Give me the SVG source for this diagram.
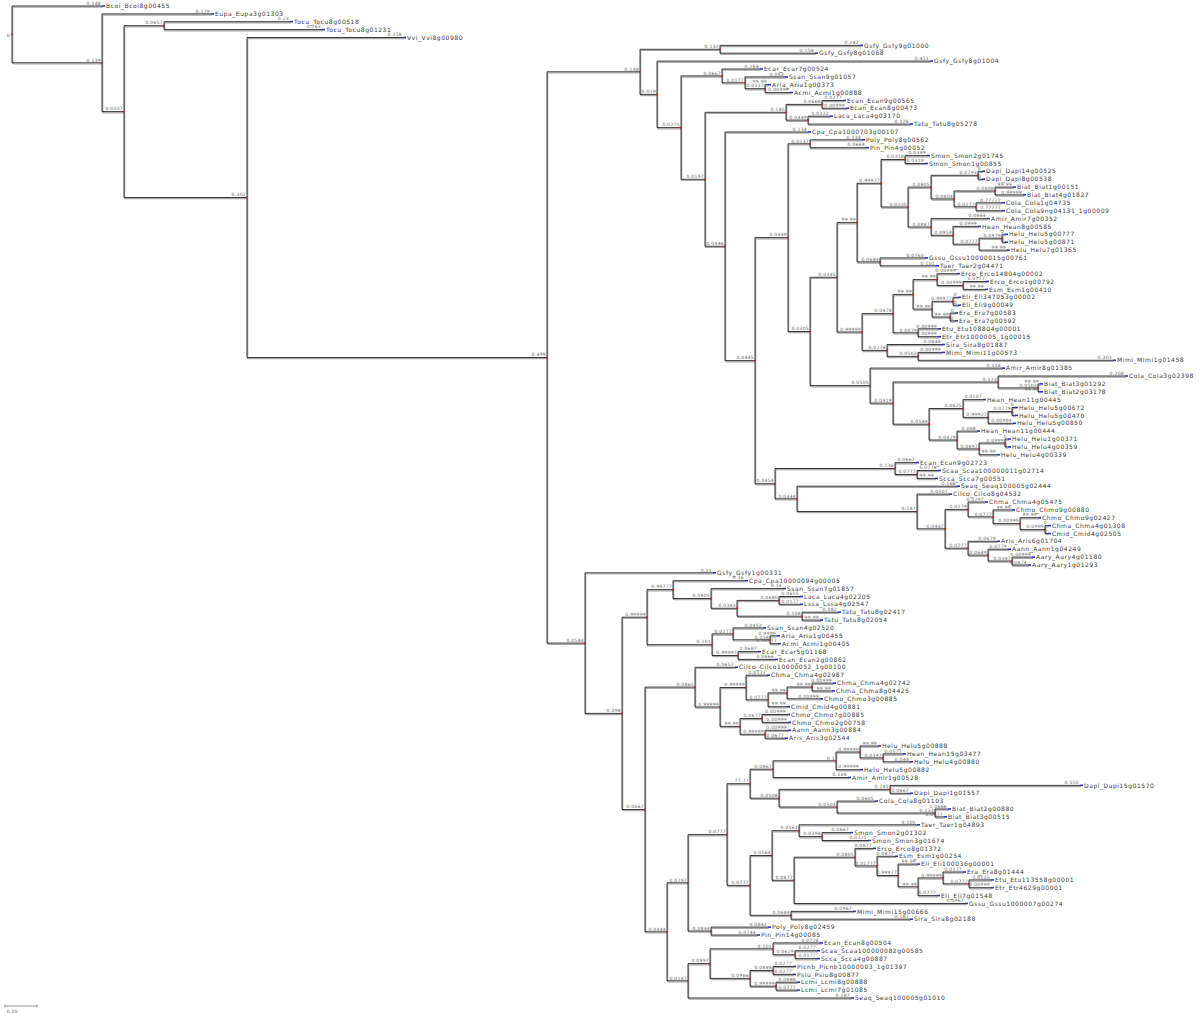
<svg xmlns="http://www.w3.org/2000/svg" xmlns:xlink="http://www.w3.org/1999/xlink" width="1200" height="1016" viewBox="0 0 1200 1016">
<style>
.n{font-family:"DejaVu Sans",sans-serif;font-size:6px;letter-spacing:0.55px;fill:#3a3a3a}
.v{font-family:"DejaVu Sans",sans-serif;font-size:4.5px;letter-spacing:0.3px;fill:#606060;text-anchor:end}
.b{fill:#2233cc}
.r{fill:#cc2222}
</style>
<defs>
<g id="E">
<path d="M12 6V62.8M12 6H102M12 62.8H102M102 13.9V111.6M102 13.9H211M102 111.6H124M124 25.7V197.5M124 25.7H164M164 21.7V29.6M164 21.7H290M164 29.6H322M124 197.5H247M247 37.5V357.5M247 37.5H403M247 357.5H547M547 71.8V643.1"/>
<path d="M547 71.8H640M640 49.3V94.4M640 49.3H720M720 45.4V53.2M720 45.4H860M720 53.2H815M640 94.4H657M657 61.1V127.6M657 61.1H930M657 127.6H681M681 75.9V179.3M681 75.9H722M722 69V82.8M722 69H760M722 82.8H745M745 76.9V88.7M745 76.9H785M745 88.7H765M765 84.7V92.6M765 84.7H768M765 92.6H790M681 179.3H705M705 112.3V246.3M705 112.3H786M786 104.4V120.1M786 104.4H822M822 100.5V108.3M822 100.5H843M822 108.3H846M786 120.1H808M808 116.2V124.1M808 116.2H830M808 124.1H910M705 246.3H725M725 132V360.6M725 132H808M725 360.6H755M755 237.6V483.7"/>
<path d="M755 237.6H788M788 143.8V331.5M788 143.8H810M810 139.8V147.7M810 139.8H862M810 147.7H866M788 331.5H810M810 277.3V385.6M810 277.3H837M837 222.6V332M837 222.6H857M857 183.3V261.9M857 183.3H881M881 159.5V207M881 159.5H905M905 155.6V163.5M905 155.6H927M905 163.5H925M881 207H908M908 187.1V227M908 187.1H931M931 175.3V198.9M931 175.3H978M978 171.3V179.2M978 171.3H982M978 179.2H982M931 198.9H954M954 191V206.8M954 191H995M995 187.1V194.9M995 187.1H1013M995 194.9H1023M954 206.8H976M976 202.8V210.7M976 202.8H1002M976 210.7H1002M908 227H931M931 218.6V235.3M931 218.6H987M931 235.3H953M953 226.4V244.2M953 226.4H978M953 244.2H979M979 238.2V250.1M979 238.2H1002M1002 234.3V242.2M1002 234.3H1005M1002 242.2H1005M979 250.1H1007M857 261.9H880M880 257.9V265.8M880 257.9H925M880 265.8H936"/>
<path d="M837 332H862M862 313.6V350.4M862 313.6H893M893 294.4V332.8M893 294.4H913M913 279.6V309.1M913 279.6H937M937 273.7V285.5M937 273.7H957M937 285.5H963M963 281.5V289.4M963 281.5H986M963 289.4H985M913 309.1H932M932 301.3V317M932 301.3H953M953 297.3V305.2M953 297.3H958M953 305.2H958M932 317H950M950 313V320.9M950 313H955M950 320.9H955M893 332.8H918M918 328.8V336.7M918 328.8H938M918 336.7H938M862 350.4H887M887 344.5V356.4M887 344.5H942M887 356.4H918M918 352.4V360.3M918 352.4H942M918 360.3H1113"/>
<path d="M810 385.6H870M870 368.1V403.1M870 368.1H1002M870 403.1H893M893 382V424.2M893 382H998M998 376V387.9M998 376H1125M998 387.9H1038M1038 383.9V391.8M1038 383.9H1040M1038 391.8H1040M893 424.2H929M929 408.5V440M929 408.5H963M963 399.6V417.4M963 399.6H983M963 417.4H988M988 411.5V423.3M988 411.5H1012M1012 407.5V415.4M1012 407.5H1015M1012 415.4H1015M988 423.3H1013M929 440H957M957 431.1V448.9M957 431.1H977M957 448.9H979M979 443V454.7M979 443H1005M1005 439V446.9M1005 439H1008M1005 446.9H1008M979 454.7H997"/>
<path d="M755 483.7H775M775 468.5V498.8M775 468.5H895M895 462.6V474.5M895 462.6H916M895 474.5H917M917 470.5V478.4M917 470.5H938M917 478.4H935M775 498.8H797M797 486.2V511.5M797 486.2H957M797 511.5H917M917 494.1V528.8M917 494.1H949M917 528.8H945M945 509.4V548.2M945 509.4H968M968 502V516.8M968 502H985M968 516.8H993M993 509.9V523.6M993 509.9H1012M993 523.6H1020M1020 517.7V529.6M1020 517.7H1038M1020 529.6H1045M1045 525.6V533.5M1045 525.6H1048M1045 533.5H1048M945 548.2H968M968 541.3V555.1M968 541.3H997M968 555.1H988M988 549.2V561M988 549.2H1008M988 561H1012M1012 557.1V565M1012 557.1H1032M1012 565H1028"/>
<path d="M547 643.1H585M585 572.8V713.4M585 572.8H713M585 713.4H622M622 617.2V809.5M622 617.2H647M647 589.6V644.7M647 589.6H673M673 580.7V598.5M673 580.7H745M673 598.5H711M711 588.6V608.3M711 588.6H783M711 608.3H737M737 600.4V616.2M737 600.4H779M779 596.5V604.3M779 596.5H800M779 604.3H800M737 616.2H802M802 612.2V620.1M802 612.2H838M802 620.1H820M647 644.7H712M712 633.9V655.5M712 633.9H733M733 627.9V639.8M733 627.9H763M733 639.8H770M770 635.8V643.7M770 635.8H777M770 643.7H778M712 655.5H738M738 651.6V659.4M738 651.6H758M738 659.4H775"/>
<path d="M622 809.5H645M645 687.1V931.8M645 687.1H695M695 667.3V707M695 667.3H735M695 707H720M720 687.5V726.4M720 687.5H746M746 675.2V699.8M746 675.2H767M746 699.8H768M768 692.9V706.7M768 692.9H787M787 687V698.8M787 687H812M812 683.1V690.9M812 683.1H833M812 690.9H832M787 698.8H820M768 706.7H787M720 726.4H740M740 718.5V734.3M740 718.5H762M762 714.5V722.4M762 714.5H787M762 722.4H788M740 734.3H765M765 730.3V738.2M765 730.3H788M765 738.2H785"/>
<path d="M645 931.8H667M667 882.8V980.8M667 882.8H688M688 834.6V931M688 834.6H727M727 783.7V885.4M727 783.7H750M750 769.2V798.2M750 769.2H773M773 760.8V777.5M773 760.8H836M836 752V769.7M836 752H860M860 746V757.9M860 746H878M860 757.9H883M883 753.9V761.8M883 753.9H903M883 761.8H910M836 769.7H860M773 777.5H848M750 798.2H779M779 789.4V807M779 789.4H890M890 785.4V793.3M890 785.4H1080M890 793.3H910M779 807H837M837 801.1V813M837 801.1H875M837 813H935M935 809V816.9M935 809H948M935 816.9H944"/>
<path d="M727 885.4H750M750 855.5V915.3M750 855.5H772M772 830.7V880.3M772 830.7H799M799 824.8V836.6M799 824.8H917M799 836.6H822M822 832.6V840.5M822 832.6H850M822 840.5H868M772 880.3H794M794 857.2V903.5M794 857.2H855M855 848.4V865.9M855 848.4H873M855 865.9H877M877 856.3V875.5M877 856.3H895M877 875.5H898M898 864.1V886.8M898 864.1H917M898 886.8H918M918 877.9V895.6M918 877.9H943M943 872V883.8M943 872H963M943 883.8H969M969 879.9V887.7M969 879.9H991M969 887.7H991M918 895.6H937M794 903.5H965M750 915.3H791M791 911.4V919.2M791 911.4H853M791 919.2H910M688 931H711M711 927.1V935M711 927.1H768M711 935H757"/>
<path d="M667 980.8H688M688 963.6V998M688 963.6H710M710 948.8V978.4M710 948.8H773M773 942.9V954.7M773 942.9H820M773 954.7H795M795 950.7V958.6M795 950.7H817M795 958.6H817M710 978.4H750M750 970.5V986.2M750 970.5H773M773 966.5V974.4M773 966.5H793M773 974.4H793M750 986.2H776M776 982.2V990.1M776 982.2H797M776 990.1H797M688 998H851"/>
</g>
</defs>
<rect width="1200" height="1016" fill="#fff"/>
<g id="connectors" fill="none">
<use href="#E" xlink:href="#E" stroke="#a8a8a8" stroke-width="1.2" transform="translate(0.7,1.2)"/>
<use href="#E" xlink:href="#E" stroke="#151515" stroke-width="0.85"/>
</g>
<g id="scale"><path d="M5 1006H37M5 1004.5V1007.5M37 1004.5V1007.5" stroke="#777" stroke-width="0.8" fill="none"/><text class="v" x="18" y="1012.5">0.05</text></g>
<g id="root"><rect class="r" x="11.2" y="33.6" width="1.6" height="1.6"/><text class="v" x="10" y="36.5">0</text></g>
<g id="nodes">
<g id="n102"><rect class="r" x="101.2" y="62" width="1.6" height="1.6"/><text class="v" x="101" y="61.5">0.139</text></g>
<g id="n125"><rect class="r" x="123.2" y="110.8" width="1.6" height="1.6"/><text class="v" x="123" y="110.3">0.0337</text></g>
<g id="n165"><rect class="r" x="163.2" y="24.9" width="1.6" height="1.6"/><text class="v" x="163" y="24.4">0.0657</text></g>
<g id="n247"><rect class="r" x="246.2" y="196.7" width="1.6" height="1.6"/><text class="v" x="246" y="196.2">0.302</text></g>
<g id="n547"><rect class="r" x="546.2" y="356.7" width="1.6" height="1.6"/><text class="v" x="546" y="356.2">0.499</text></g>
<g id="n640"><rect class="r" x="639.2" y="71" width="1.6" height="1.6"/><text class="v" x="639" y="70.5">0.148</text></g>
<g id="n720a"><rect class="r" x="719.2" y="48.5" width="1.6" height="1.6"/><text class="v" x="719" y="48">0.132</text></g>
<g id="n657"><rect class="r" x="656.2" y="93.6" width="1.6" height="1.6"/><text class="v" x="656" y="93.1">0.019</text></g>
<g id="n681"><rect class="r" x="680.2" y="126.8" width="1.6" height="1.6"/><text class="v" x="680" y="126.3">0.0271</text></g>
<g id="n722"><rect class="r" x="721.2" y="75.1" width="1.6" height="1.6"/><text class="v" x="721" y="74.6">0.0667</text></g>
<g id="n745"><rect class="r" x="744.2" y="82" width="1.6" height="1.6"/><text class="v" x="744" y="81.5">0.0177</text></g>
<g id="n765"><rect class="r" x="764.2" y="87.9" width="1.6" height="1.6"/><text class="v" x="764" y="87.4">0.0337</text></g>
<g id="n705"><rect class="r" x="704.2" y="178.5" width="1.6" height="1.6"/><text class="v" x="704" y="178">0.0197</text></g>
<g id="n786"><rect class="r" x="785.2" y="111.5" width="1.6" height="1.6"/><text class="v" x="785" y="111">0.185</text></g>
<g id="n822"><rect class="r" x="821.2" y="103.6" width="1.6" height="1.6"/><text class="v" x="821" y="103.1">0.0668</text></g>
<g id="n808"><rect class="r" x="807.2" y="119.3" width="1.6" height="1.6"/><text class="v" x="807" y="118.8">0.0449</text></g>
<g id="n725"><rect class="r" x="724.2" y="245.5" width="1.6" height="1.6"/><text class="v" x="724" y="245">0.0446</text></g>
<g id="n755"><rect class="r" x="754.2" y="359.8" width="1.6" height="1.6"/><text class="v" x="754" y="359.3">0.0445</text></g>
<g id="n788"><rect class="r" x="787.2" y="236.8" width="1.6" height="1.6"/><text class="v" x="787" y="236.3">0.0449</text></g>
<g id="n810p"><rect class="r" x="809.2" y="143" width="1.6" height="1.6"/><text class="v" x="809" y="142.5">0.0137</text></g>
<g id="n810b"><rect class="r" x="809.2" y="330.7" width="1.6" height="1.6"/><text class="v" x="809" y="330.2">0.0305</text></g>
<g id="n837"><rect class="r" x="836.2" y="276.5" width="1.6" height="1.6"/><text class="v" x="836" y="276">0.0345</text></g>
<g id="n857"><rect class="r" x="856.2" y="221.8" width="1.6" height="1.6"/><text class="v" x="856" y="221.3">99.99</text></g>
<g id="n881"><rect class="r" x="880.2" y="182.5" width="1.6" height="1.6"/><text class="v" x="880" y="182">0.99977</text></g>
<g id="n905"><rect class="r" x="904.2" y="158.7" width="1.6" height="1.6"/><text class="v" x="904" y="158.2">0.0318</text></g>
<g id="n908"><rect class="r" x="907.2" y="206.2" width="1.6" height="1.6"/><text class="v" x="907" y="205.7">0.0335</text></g>
<g id="n931a"><rect class="r" x="930.2" y="186.3" width="1.6" height="1.6"/><text class="v" x="930" y="185.8">0.0805</text></g>
<g id="n978"><rect class="r" x="977.2" y="174.5" width="1.6" height="1.6"/><text class="v" x="977" y="174">0.0793</text></g>
<g id="n954"><rect class="r" x="953.2" y="198.1" width="1.6" height="1.6"/><text class="v" x="953" y="197.6">0.0804</text></g>
<g id="n995"><rect class="r" x="994.2" y="190.2" width="1.6" height="1.6"/><text class="v" x="994" y="189.7">0.0808</text></g>
<g id="n976"><rect class="r" x="975.2" y="206" width="1.6" height="1.6"/><text class="v" x="975" y="205.5">0.0277</text></g>
<g id="n931b"><rect class="r" x="930.2" y="226.2" width="1.6" height="1.6"/><text class="v" x="930" y="225.7">0.0887</text></g>
<g id="n953"><rect class="r" x="952.2" y="234.5" width="1.6" height="1.6"/><text class="v" x="952" y="234">0.0959</text></g>
<g id="n979"><rect class="r" x="978.2" y="243.4" width="1.6" height="1.6"/><text class="v" x="978" y="242.9">0.0777</text></g>
<g id="n1002"><rect class="r" x="1001.2" y="237.4" width="1.6" height="1.6"/><text class="v" x="1001" y="236.9">0.0979</text></g>
<g id="n880b"><rect class="r" x="879.2" y="261.1" width="1.6" height="1.6"/><text class="v" x="879" y="260.6">0.0684</text></g>
<g id="n862"><rect class="r" x="861.2" y="331.2" width="1.6" height="1.6"/><text class="v" x="861" y="330.7">0.99999</text></g>
<g id="n893"><rect class="r" x="892.2" y="312.8" width="1.6" height="1.6"/><text class="v" x="892" y="312.3">0.0478</text></g>
<g id="n913"><rect class="r" x="912.2" y="293.6" width="1.6" height="1.6"/><text class="v" x="912" y="293.1">99.99</text></g>
<g id="n937"><rect class="r" x="936.2" y="278.8" width="1.6" height="1.6"/><text class="v" x="936" y="278.3">99.99</text></g>
<g id="n963"><rect class="r" x="962.2" y="284.7" width="1.6" height="1.6"/><text class="v" x="962" y="284.2">0.00999</text></g>
<g id="n932"><rect class="r" x="931.2" y="308.3" width="1.6" height="1.6"/><text class="v" x="931" y="307.8">99.99</text></g>
<g id="n953b"><rect class="r" x="952.2" y="300.5" width="1.6" height="1.6"/><text class="v" x="952" y="300">0.99977</text></g>
<g id="n950"><rect class="r" x="949.2" y="316.2" width="1.6" height="1.6"/><text class="v" x="949" y="315.7">99.99</text></g>
<g id="n918"><rect class="r" x="917.2" y="332" width="1.6" height="1.6"/><text class="v" x="917" y="331.5">0.0079</text></g>
<g id="n887"><rect class="r" x="886.2" y="349.6" width="1.6" height="1.6"/><text class="v" x="886" y="349.1">0.0278</text></g>
<g id="n918b"><rect class="r" x="917.2" y="355.6" width="1.6" height="1.6"/><text class="v" x="917" y="355.1">0.0503</text></g>
<g id="n870"><rect class="r" x="869.2" y="384.8" width="1.6" height="1.6"/><text class="v" x="869" y="384.3">0.0505</text></g>
<g id="n893b"><rect class="r" x="892.2" y="402.3" width="1.6" height="1.6"/><text class="v" x="892" y="401.8">0.0419</text></g>
<g id="n998"><rect class="r" x="997.2" y="381.2" width="1.6" height="1.6"/><text class="v" x="997" y="380.7">0.173</text></g>
<g id="n1038"><rect class="r" x="1037.2" y="387.1" width="1.6" height="1.6"/><text class="v" x="1037" y="386.6">0.0503</text></g>
<g id="n929"><rect class="r" x="928.2" y="423.4" width="1.6" height="1.6"/><text class="v" x="928" y="422.9">0.0584</text></g>
<g id="n963b"><rect class="r" x="962.2" y="407.7" width="1.6" height="1.6"/><text class="v" x="962" y="407.2">0.0625</text></g>
<g id="n988"><rect class="r" x="987.2" y="416.6" width="1.6" height="1.6"/><text class="v" x="987" y="416.1">0.99927</text></g>
<g id="n1012a"><rect class="r" x="1011.2" y="410.7" width="1.6" height="1.6"/><text class="v" x="1011" y="410.2">0.0779</text></g>
<g id="n957"><rect class="r" x="956.2" y="439.2" width="1.6" height="1.6"/><text class="v" x="956" y="438.7">0.0429</text></g>
<g id="n979b"><rect class="r" x="978.2" y="448.1" width="1.6" height="1.6"/><text class="v" x="978" y="447.6">0.0897</text></g>
<g id="n1005"><rect class="r" x="1004.2" y="442.2" width="1.6" height="1.6"/><text class="v" x="1004" y="441.7">0.0999</text></g>
<g id="n775"><rect class="r" x="774.2" y="482.9" width="1.6" height="1.6"/><text class="v" x="774" y="482.4">0.0454</text></g>
<g id="n895"><rect class="r" x="894.2" y="467.7" width="1.6" height="1.6"/><text class="v" x="894" y="467.2">0.136</text></g>
<g id="n917"><rect class="r" x="916.2" y="473.7" width="1.6" height="1.6"/><text class="v" x="916" y="473.2">0.0777</text></g>
<g id="n797"><rect class="r" x="796.2" y="498" width="1.6" height="1.6"/><text class="v" x="796" y="497.5">0.0444</text></g>
<g id="n917b"><rect class="r" x="916.2" y="510.7" width="1.6" height="1.6"/><text class="v" x="916" y="510.2">0.187</text></g>
<g id="n945"><rect class="r" x="944.2" y="528" width="1.6" height="1.6"/><text class="v" x="944" y="527.5">0.0447</text></g>
<g id="n968a"><rect class="r" x="967.2" y="508.6" width="1.6" height="1.6"/><text class="v" x="967" y="508.1">0.0279</text></g>
<g id="n993"><rect class="r" x="992.2" y="516" width="1.6" height="1.6"/><text class="v" x="992" y="515.5">0.0777</text></g>
<g id="n1020"><rect class="r" x="1019.2" y="522.8" width="1.6" height="1.6"/><text class="v" x="1019" y="522.3">0.00999</text></g>
<g id="n1045"><rect class="r" x="1044.2" y="528.8" width="1.6" height="1.6"/><text class="v" x="1044" y="528.3">0.0999</text></g>
<g id="n968b"><rect class="r" x="967.2" y="547.4" width="1.6" height="1.6"/><text class="v" x="967" y="546.9">0.0777</text></g>
<g id="n988b"><rect class="r" x="987.2" y="554.3" width="1.6" height="1.6"/><text class="v" x="987" y="553.8">0.0689</text></g>
<g id="n1012b"><rect class="r" x="1011.2" y="560.2" width="1.6" height="1.6"/><text class="v" x="1011" y="559.7">0.0347</text></g>
<g id="n585"><rect class="r" x="584.2" y="642.3" width="1.6" height="1.6"/><text class="v" x="584" y="641.8">0.0584</text></g>
<g id="n622"><rect class="r" x="621.2" y="712.6" width="1.6" height="1.6"/><text class="v" x="621" y="712.1">0.098</text></g>
<g id="n647"><rect class="r" x="646.2" y="616.4" width="1.6" height="1.6"/><text class="v" x="646" y="615.9">0.99999</text></g>
<g id="n673"><rect class="r" x="672.2" y="588.8" width="1.6" height="1.6"/><text class="v" x="672" y="588.3">0.99777</text></g>
<g id="n711"><rect class="r" x="710.2" y="597.7" width="1.6" height="1.6"/><text class="v" x="710" y="597.2">0.0805</text></g>
<g id="n737"><rect class="r" x="736.2" y="607.5" width="1.6" height="1.6"/><text class="v" x="736" y="607">0.0383</text></g>
<g id="n779"><rect class="r" x="778.2" y="599.6" width="1.6" height="1.6"/><text class="v" x="778" y="599.1">0.0680</text></g>
<g id="n802"><rect class="r" x="801.2" y="615.4" width="1.6" height="1.6"/><text class="v" x="801" y="614.9">0.108</text></g>
<g id="n712"><rect class="r" x="711.2" y="643.9" width="1.6" height="1.6"/><text class="v" x="711" y="643.4">0.101</text></g>
<g id="n733"><rect class="r" x="732.2" y="633.1" width="1.6" height="1.6"/><text class="v" x="732" y="632.6">0.0177</text></g>
<g id="n770"><rect class="r" x="769.2" y="639" width="1.6" height="1.6"/><text class="v" x="769" y="638.5">0.058</text></g>
<g id="n738"><rect class="r" x="737.2" y="654.7" width="1.6" height="1.6"/><text class="v" x="737" y="654.2">0.99997</text></g>
<g id="n645"><rect class="r" x="644.2" y="808.7" width="1.6" height="1.6"/><text class="v" x="644" y="808.2">0.0667</text></g>
<g id="n695"><rect class="r" x="694.2" y="686.3" width="1.6" height="1.6"/><text class="v" x="694" y="685.8">0.0865</text></g>
<g id="n720b"><rect class="r" x="719.2" y="706.2" width="1.6" height="1.6"/><text class="v" x="719" y="705.7">0.99999</text></g>
<g id="n746"><rect class="r" x="745.2" y="686.7" width="1.6" height="1.6"/><text class="v" x="745" y="686.2">0.99999</text></g>
<g id="n768"><rect class="r" x="767.2" y="699" width="1.6" height="1.6"/><text class="v" x="767" y="698.5">0.0777</text></g>
<g id="n787"><rect class="r" x="786.2" y="692.1" width="1.6" height="1.6"/><text class="v" x="786" y="691.6">99.99</text></g>
<g id="n812"><rect class="r" x="811.2" y="686.2" width="1.6" height="1.6"/><text class="v" x="811" y="685.7">99.99</text></g>
<g id="n740"><rect class="r" x="739.2" y="725.6" width="1.6" height="1.6"/><text class="v" x="739" y="725.1">99.99</text></g>
<g id="n762"><rect class="r" x="761.2" y="717.7" width="1.6" height="1.6"/><text class="v" x="761" y="717.2">0.0677</text></g>
<g id="n765b"><rect class="r" x="764.2" y="733.5" width="1.6" height="1.6"/><text class="v" x="764" y="733">0.99999</text></g>
<g id="n667"><rect class="r" x="666.2" y="931" width="1.6" height="1.6"/><text class="v" x="666" y="930.5">0.0444</text></g>
<g id="n688a"><rect class="r" x="687.2" y="882" width="1.6" height="1.6"/><text class="v" x="687" y="881.5">0.0797</text></g>
<g id="n727"><rect class="r" x="726.2" y="833.8" width="1.6" height="1.6"/><text class="v" x="726" y="833.3">0.0777</text></g>
<g id="n750"><rect class="r" x="749.2" y="782.9" width="1.6" height="1.6"/><text class="v" x="749" y="782.4">77.77</text></g>
<g id="n773"><rect class="r" x="772.2" y="768.4" width="1.6" height="1.6"/><text class="v" x="772" y="767.9">0.0867</text></g>
<g id="n836"><rect class="r" x="835.2" y="760" width="1.6" height="1.6"/><text class="v" x="835" y="759.5">0.1</text></g>
<g id="n860"><rect class="r" x="859.2" y="751.2" width="1.6" height="1.6"/><text class="v" x="859" y="750.7">0.99999</text></g>
<g id="n883"><rect class="r" x="882.2" y="757.1" width="1.6" height="1.6"/><text class="v" x="882" y="756.6">0.0397</text></g>
<g id="n779b"><rect class="r" x="778.2" y="797.4" width="1.6" height="1.6"/><text class="v" x="778" y="796.9">0.0508</text></g>
<g id="n890"><rect class="r" x="889.2" y="788.6" width="1.6" height="1.6"/><text class="v" x="889" y="788.1">0.181</text></g>
<g id="n837b"><rect class="r" x="836.2" y="806.2" width="1.6" height="1.6"/><text class="v" x="836" y="805.7">0.0503</text></g>
<g id="n935"><rect class="r" x="934.2" y="812.2" width="1.6" height="1.6"/><text class="v" x="934" y="811.7">0.133</text></g>
<g id="n750b"><rect class="r" x="749.2" y="884.6" width="1.6" height="1.6"/><text class="v" x="749" y="884.1">0.0777</text></g>
<g id="n772"><rect class="r" x="771.2" y="854.7" width="1.6" height="1.6"/><text class="v" x="771" y="854.2">0.0564</text></g>
<g id="n799"><rect class="r" x="798.2" y="829.9" width="1.6" height="1.6"/><text class="v" x="798" y="829.4">0.0561</text></g>
<g id="n822b"><rect class="r" x="821.2" y="835.8" width="1.6" height="1.6"/><text class="v" x="821" y="835.3">0.0394</text></g>
<g id="n794"><rect class="r" x="793.2" y="879.5" width="1.6" height="1.6"/><text class="v" x="793" y="879">0.0877</text></g>
<g id="n855"><rect class="r" x="854.2" y="856.4" width="1.6" height="1.6"/><text class="v" x="854" y="855.9">0.0805</text></g>
<g id="n877"><rect class="r" x="876.2" y="865.1" width="1.6" height="1.6"/><text class="v" x="876" y="864.6">0.01777</text></g>
<g id="n898"><rect class="r" x="897.2" y="874.7" width="1.6" height="1.6"/><text class="v" x="897" y="874.2">0.99977</text></g>
<g id="n918c"><rect class="r" x="917.2" y="886" width="1.6" height="1.6"/><text class="v" x="917" y="885.5">99.99</text></g>
<g id="n943"><rect class="r" x="942.2" y="877.1" width="1.6" height="1.6"/><text class="v" x="942" y="876.6">0.99999</text></g>
<g id="n969"><rect class="r" x="968.2" y="883" width="1.6" height="1.6"/><text class="v" x="968" y="882.5">0.0777</text></g>
<g id="n791"><rect class="r" x="790.2" y="914.5" width="1.6" height="1.6"/><text class="v" x="790" y="914">0.0684</text></g>
<g id="n711b"><rect class="r" x="710.2" y="930.2" width="1.6" height="1.6"/><text class="v" x="710" y="929.7">0.0844</text></g>
<g id="n688"><rect class="r" x="687.2" y="980" width="1.6" height="1.6"/><text class="v" x="687" y="979.5">0.0147</text></g>
<g id="n710"><rect class="r" x="709.2" y="962.8" width="1.6" height="1.6"/><text class="v" x="709" y="962.3">0.0997</text></g>
<g id="n773b"><rect class="r" x="772.2" y="948" width="1.6" height="1.6"/><text class="v" x="772" y="947.5">0.101</text></g>
<g id="n795"><rect class="r" x="794.2" y="953.9" width="1.6" height="1.6"/><text class="v" x="794" y="953.4">0.0629</text></g>
<g id="n750c"><rect class="r" x="749.2" y="977.6" width="1.6" height="1.6"/><text class="v" x="749" y="977.1">0.0966</text></g>
<g id="n773c"><rect class="r" x="772.2" y="969.7" width="1.6" height="1.6"/><text class="v" x="772" y="969.2">0.0888</text></g>
<g id="n776"><rect class="r" x="775.2" y="985.4" width="1.6" height="1.6"/><text class="v" x="775" y="984.9">0.99999</text></g>
</g>
<g id="leaves">
<g id="L1"><rect class="b" x="102" y="5.2" width="3" height="1.6"/><text class="v" x="101" y="4.7">0.148</text><text class="n" x="106" y="8.1">Bcoi_Bcoi8g00455</text></g>
<g id="L2"><rect class="b" x="211" y="13.1" width="3" height="1.6"/><text class="v" x="210" y="12.6">0.179</text><text class="n" x="215" y="16">Eupa_Eupa3g01303</text></g>
<g id="L3"><rect class="b" x="290" y="20.9" width="3" height="1.6"/><text class="v" x="289" y="20.4">0.23</text><text class="n" x="294" y="23.8">Tocu_Tocu8g00518</text></g>
<g id="L4"><rect class="b" x="322" y="28.8" width="3" height="1.6"/><text class="v" x="321" y="28.3">0.263</text><text class="n" x="326" y="31.7">Tocu_Tocu8g01231</text></g>
<g id="L5"><rect class="b" x="403" y="36.7" width="3" height="1.6"/><text class="v" x="402" y="36.2">0.258</text><text class="n" x="407" y="39.6">Vvi_Vvi8g00980</text></g>
<g id="L6"><rect class="b" x="860" y="44.6" width="3" height="1.6"/><text class="v" x="859" y="44.1">0.282</text><text class="n" x="864" y="47.5">Gsfy_Gsfy9g01000</text></g>
<g id="L7"><rect class="b" x="815" y="52.4" width="3" height="1.6"/><text class="v" x="814" y="51.9">0.158</text><text class="n" x="819" y="55.3">Gsfy_Gsfy8g01068</text></g>
<g id="L8"><rect class="b" x="930" y="60.3" width="3" height="1.6"/><text class="v" x="929" y="59.8">0.451</text><text class="n" x="934" y="63.2">Gsfy_Gsfy8g01004</text></g>
<g id="L9"><rect class="b" x="760" y="68.2" width="3" height="1.6"/><text class="v" x="759" y="67.7">0.264</text><text class="n" x="764" y="71.1">Ecar_Ecar7g00524</text></g>
<g id="L10"><rect class="b" x="785" y="76.1" width="3" height="1.6"/><text class="v" x="784" y="75.6">0.083</text><text class="n" x="789" y="79">Ssan_Ssan9g01057</text></g>
<g id="L11"><rect class="b" x="768" y="83.9" width="3" height="1.6"/><text class="v" x="767" y="83.4">99.99</text><text class="n" x="772" y="86.8">Aria_Aria1g00373</text></g>
<g id="L12"><rect class="b" x="790" y="91.8" width="3" height="1.6"/><text class="v" x="789" y="91.3">0.00999</text><text class="n" x="794" y="94.7">Acmi_Acmi1g00888</text></g>
<g id="L13"><rect class="b" x="843" y="99.7" width="3" height="1.6"/><text class="v" x="842" y="99.2">0.0277</text><text class="n" x="847" y="102.6">Ecan_Ecan9g00565</text></g>
<g id="L14"><rect class="b" x="846" y="107.5" width="3" height="1.6"/><text class="v" x="845" y="107">0.00999</text><text class="n" x="850" y="110.4">Ecan_Ecan8g00473</text></g>
<g id="L15"><rect class="b" x="830" y="115.4" width="3" height="1.6"/><text class="v" x="829" y="114.9">0.0322</text><text class="n" x="834" y="118.3">Laca_Laca4g03170</text></g>
<g id="L16"><rect class="b" x="910" y="123.3" width="3" height="1.6"/><text class="v" x="909" y="122.8">0.126</text><text class="n" x="914" y="126.2">Tatu_Tatu8g05278</text></g>
<g id="L17"><rect class="b" x="808" y="131.2" width="3" height="1.6"/><text class="v" x="807" y="130.7">0.134</text><text class="n" x="812" y="134.1">Cpa_Cpa1000703g00107</text></g>
<g id="L18"><rect class="b" x="862" y="139" width="3" height="1.6"/><text class="v" x="861" y="138.5">0.134</text><text class="n" x="866" y="141.9">Poly_Poly8g00562</text></g>
<g id="L19"><rect class="b" x="866" y="146.9" width="3" height="1.6"/><text class="v" x="865" y="146.4">0.0669</text><text class="n" x="870" y="149.8">Pin_Pin4g00052</text></g>
<g id="L20"><rect class="b" x="927" y="154.8" width="3" height="1.6"/><text class="v" x="926" y="154.3">0.0389</text><text class="n" x="931" y="157.7">Smon_Smon2g01745</text></g>
<g id="L21"><rect class="b" x="925" y="162.7" width="3" height="1.6"/><text class="v" x="924" y="162.2">0.0319</text><text class="n" x="929" y="165.6">Smon_Smon1g00855</text></g>
<g id="L22"><rect class="b" x="982" y="170.5" width="3" height="1.6"/><text class="v" x="981" y="170">0</text><text class="n" x="986" y="173.4">Dapi_Dapi14g00525</text></g>
<g id="L23"><rect class="b" x="982" y="178.4" width="3" height="1.6"/><text class="v" x="981" y="177.9">0</text><text class="n" x="986" y="181.3">Dapi_Dapi8g00538</text></g>
<g id="L24"><rect class="b" x="1013" y="186.3" width="3" height="1.6"/><text class="v" x="1012" y="185.8">99.99</text><text class="n" x="1017" y="189.2">Biat_Biat1g00151</text></g>
<g id="L25"><rect class="b" x="1023" y="194.1" width="3" height="1.6"/><text class="v" x="1022" y="193.6">0.99999</text><text class="n" x="1027" y="197">Biat_Biat4g01827</text></g>
<g id="L26"><rect class="b" x="1002" y="202" width="3" height="1.6"/><text class="v" x="1001" y="201.5">0.77777</text><text class="n" x="1006" y="204.9">Cola_Cola1g04735</text></g>
<g id="L27"><rect class="b" x="1002" y="209.9" width="3" height="1.6"/><text class="v" x="1001" y="209.4">0.77777</text><text class="n" x="1006" y="212.8">Cola_Cola9ng04131_1g00009</text></g>
<g id="L28"><rect class="b" x="987" y="217.8" width="3" height="1.6"/><text class="v" x="986" y="217.3">0.0864</text><text class="n" x="991" y="220.7">Amir_Amir7g00352</text></g>
<g id="L29"><rect class="b" x="978" y="225.6" width="3" height="1.6"/><text class="v" x="977" y="225.1">0.0999</text><text class="n" x="982" y="228.5">Hean_Hean8g00585</text></g>
<g id="L30"><rect class="b" x="1005" y="233.5" width="3" height="1.6"/><text class="v" x="1004" y="233">0</text><text class="n" x="1009" y="236.4">Helu_Helu5g00777</text></g>
<g id="L31"><rect class="b" x="1005" y="241.4" width="3" height="1.6"/><text class="v" x="1004" y="240.9">0</text><text class="n" x="1009" y="244.3">Helu_Helu5g00871</text></g>
<g id="L32"><rect class="b" x="1007" y="249.3" width="3" height="1.6"/><text class="v" x="1006" y="248.8">99.99</text><text class="n" x="1011" y="252.2">Helu_Helu7g01365</text></g>
<g id="L33"><rect class="b" x="925" y="257.1" width="3" height="1.6"/><text class="v" x="924" y="256.6">0.0763</text><text class="n" x="929" y="260">Gssu_Gssu10000015g00761</text></g>
<g id="L34"><rect class="b" x="936" y="265" width="3" height="1.6"/><text class="v" x="935" y="264.5">0.101</text><text class="n" x="940" y="267.9">Taer_Taer2g04471</text></g>
<g id="L35"><rect class="b" x="957" y="272.9" width="3" height="1.6"/><text class="v" x="956" y="272.4">0.00999</text><text class="n" x="961" y="275.8">Erco_Erco14804g00002</text></g>
<g id="L36"><rect class="b" x="986" y="280.7" width="3" height="1.6"/><text class="v" x="985" y="280.2">0.0777</text><text class="n" x="990" y="283.6">Erco_Erco1g00792</text></g>
<g id="L37"><rect class="b" x="985" y="288.6" width="3" height="1.6"/><text class="v" x="984" y="288.1">99.99</text><text class="n" x="989" y="291.5">Esm_Esm1g00410</text></g>
<g id="L38"><rect class="b" x="958" y="296.5" width="3" height="1.6"/><text class="v" x="957" y="296">0</text><text class="n" x="962" y="299.4">Eli_Eli347053g00002</text></g>
<g id="L39"><rect class="b" x="958" y="304.4" width="3" height="1.6"/><text class="v" x="957" y="303.9">0</text><text class="n" x="962" y="307.3">Eli_Eli9g00049</text></g>
<g id="L40"><rect class="b" x="955" y="312.2" width="3" height="1.6"/><text class="v" x="954" y="311.7">0</text><text class="n" x="959" y="315.1">Era_Era7g00583</text></g>
<g id="L41"><rect class="b" x="955" y="320.1" width="3" height="1.6"/><text class="v" x="954" y="319.6">0</text><text class="n" x="959" y="323">Era_Era7g00592</text></g>
<g id="L42"><rect class="b" x="938" y="328" width="3" height="1.6"/><text class="v" x="937" y="327.5">0.00999</text><text class="n" x="942" y="330.9">Etu_Etu108804g00001</text></g>
<g id="L43"><rect class="b" x="938" y="335.9" width="3" height="1.6"/><text class="v" x="937" y="335.4">0.00999</text><text class="n" x="942" y="338.8">Etr_Etr1000005_1g00015</text></g>
<g id="L44"><rect class="b" x="942" y="343.7" width="3" height="1.6"/><text class="v" x="941" y="343.2">0.0644</text><text class="n" x="946" y="346.6">Sira_Sira8g01887</text></g>
<g id="L45"><rect class="b" x="942" y="351.6" width="3" height="1.6"/><text class="v" x="941" y="351.1">0.00999</text><text class="n" x="946" y="354.5">Mimi_Mimi11g00573</text></g>
<g id="L46"><rect class="b" x="1113" y="359.5" width="3" height="1.6"/><text class="v" x="1112" y="359">0.303</text><text class="n" x="1117" y="362.4">Mimi_Mimi1g01458</text></g>
<g id="L47"><rect class="b" x="1002" y="367.3" width="3" height="1.6"/><text class="v" x="1001" y="366.8">0.118</text><text class="n" x="1006" y="370.2">Amir_Amir8g01385</text></g>
<g id="L48"><rect class="b" x="1125" y="375.2" width="3" height="1.6"/><text class="v" x="1124" y="374.7">0.208</text><text class="n" x="1129" y="378.1">Cola_Cola3g02398</text></g>
<g id="L49"><rect class="b" x="1040" y="383.1" width="3" height="1.6"/><text class="v" x="1039" y="382.6">99.99</text><text class="n" x="1044" y="386">Biat_Biat3g01292</text></g>
<g id="L50"><rect class="b" x="1040" y="391" width="3" height="1.6"/><text class="v" x="1039" y="390.5">99.99</text><text class="n" x="1044" y="393.9">Biat_Biat2g03178</text></g>
<g id="L51"><rect class="b" x="983" y="398.8" width="3" height="1.6"/><text class="v" x="982" y="398.3">0.0107</text><text class="n" x="987" y="401.7">Hean_Hean11g00445</text></g>
<g id="L52"><rect class="b" x="1015" y="406.7" width="3" height="1.6"/><text class="v" x="1014" y="406.2">0</text><text class="n" x="1019" y="409.6">Helu_Helu5g00672</text></g>
<g id="L53"><rect class="b" x="1015" y="414.6" width="3" height="1.6"/><text class="v" x="1014" y="414.1">0</text><text class="n" x="1019" y="417.5">Helu_Helu5g00470</text></g>
<g id="L54"><rect class="b" x="1013" y="422.5" width="3" height="1.6"/><text class="v" x="1012" y="422">0.00994</text><text class="n" x="1017" y="425.4">Helu_Helu5g00850</text></g>
<g id="L55"><rect class="b" x="977" y="430.3" width="3" height="1.6"/><text class="v" x="976" y="429.8">0.088</text><text class="n" x="981" y="433.2">Hean_Hean11g00444</text></g>
<g id="L56"><rect class="b" x="1008" y="438.2" width="3" height="1.6"/><text class="v" x="1007" y="437.7">0</text><text class="n" x="1012" y="441.1">Helu_Helu1g00371</text></g>
<g id="L57"><rect class="b" x="1008" y="446.1" width="3" height="1.6"/><text class="v" x="1007" y="445.6">0</text><text class="n" x="1012" y="449">Helu_Helu4g00359</text></g>
<g id="L58"><rect class="b" x="997" y="453.9" width="3" height="1.6"/><text class="v" x="996" y="453.4">99.99</text><text class="n" x="1001" y="456.8">Helu_Helu4g00339</text></g>
<g id="L59"><rect class="b" x="916" y="461.8" width="3" height="1.6"/><text class="v" x="915" y="461.3">0.0667</text><text class="n" x="920" y="464.7">Ecan_Ecan9g02723</text></g>
<g id="L60"><rect class="b" x="938" y="469.7" width="3" height="1.6"/><text class="v" x="937" y="469.2">0.0778</text><text class="n" x="942" y="472.6">Scaa_Scaa100000011g02714</text></g>
<g id="L61"><rect class="b" x="935" y="477.6" width="3" height="1.6"/><text class="v" x="934" y="477.1">99.99</text><text class="n" x="939" y="480.5">Scca_Scca7g00551</text></g>
<g id="L62"><rect class="b" x="957" y="485.4" width="3" height="1.6"/><text class="v" x="956" y="484.9">0.166</text><text class="n" x="961" y="488.3">Seaq_Seaq100005g02444</text></g>
<g id="L63"><rect class="b" x="949" y="493.3" width="3" height="1.6"/><text class="v" x="948" y="492.8">0.0507</text><text class="n" x="953" y="496.2">Cilco_Cilco8g04532</text></g>
<g id="L64"><rect class="b" x="985" y="501.2" width="3" height="1.6"/><text class="v" x="984" y="500.7">0.0297</text><text class="n" x="989" y="504.1">Chma_Chma4g05475</text></g>
<g id="L65"><rect class="b" x="1012" y="509.1" width="3" height="1.6"/><text class="v" x="1011" y="508.6">99.99</text><text class="n" x="1016" y="512">Chmo_Chmo9g00880</text></g>
<g id="L66"><rect class="b" x="1038" y="516.9" width="3" height="1.6"/><text class="v" x="1037" y="516.4">99.99</text><text class="n" x="1042" y="519.8">Chmo_Chmo9g02427</text></g>
<g id="L67"><rect class="b" x="1048" y="524.8" width="3" height="1.6"/><text class="v" x="1047" y="524.3">0</text><text class="n" x="1052" y="527.7">Chma_Chma4g01308</text></g>
<g id="L68"><rect class="b" x="1048" y="532.7" width="3" height="1.6"/><text class="v" x="1047" y="532.2">0</text><text class="n" x="1052" y="535.6">Cmid_Cmid4g02505</text></g>
<g id="L69"><rect class="b" x="997" y="540.5" width="3" height="1.6"/><text class="v" x="996" y="540">0.0679</text><text class="n" x="1001" y="543.4">Aris_Aris6g01704</text></g>
<g id="L70"><rect class="b" x="1008" y="548.4" width="3" height="1.6"/><text class="v" x="1007" y="547.9">0.0779</text><text class="n" x="1012" y="551.3">Aann_Aann1g04249</text></g>
<g id="L71"><rect class="b" x="1032" y="556.3" width="3" height="1.6"/><text class="v" x="1031" y="555.8">0.00999</text><text class="n" x="1036" y="559.2">Aary_Aary4g01180</text></g>
<g id="L72"><rect class="b" x="1028" y="564.2" width="3" height="1.6"/><text class="v" x="1027" y="563.7">0.0874</text><text class="n" x="1032" y="567.1">Aary_Aary1g01293</text></g>
<g id="L73"><rect class="b" x="713" y="572" width="3" height="1.6"/><text class="v" x="712" y="571.5">0.21</text><text class="n" x="717" y="574.9">Gsfy_Gsfy1g00331</text></g>
<g id="L74"><rect class="b" x="745" y="579.9" width="3" height="1.6"/><text class="v" x="744" y="579.4">0.16</text><text class="n" x="749" y="582.8">Cpa_Cpa10000094g00005</text></g>
<g id="L75"><rect class="b" x="783" y="587.8" width="3" height="1.6"/><text class="v" x="782" y="587.3">0.14</text><text class="n" x="787" y="590.7">Ssan_Ssan7g01857</text></g>
<g id="L76"><rect class="b" x="800" y="595.7" width="3" height="1.6"/><text class="v" x="799" y="595.2">0.0655</text><text class="n" x="804" y="598.6">Laca_Laca4g02205</text></g>
<g id="L77"><rect class="b" x="800" y="603.5" width="3" height="1.6"/><text class="v" x="799" y="603">0.0177</text><text class="n" x="804" y="606.4">Lssa_Lssa4g02547</text></g>
<g id="L78"><rect class="b" x="838" y="611.4" width="3" height="1.6"/><text class="v" x="837" y="610.9">0.082</text><text class="n" x="842" y="614.3">Tatu_Tatu8g02417</text></g>
<g id="L79"><rect class="b" x="820" y="619.3" width="3" height="1.6"/><text class="v" x="819" y="618.8">99.99</text><text class="n" x="824" y="622.2">Tatu_Tatu8g02054</text></g>
<g id="L80"><rect class="b" x="763" y="627.1" width="3" height="1.6"/><text class="v" x="762" y="626.6">0.0452</text><text class="n" x="767" y="630">Ssan_Ssan4g02520</text></g>
<g id="L81"><rect class="b" x="777" y="635" width="3" height="1.6"/><text class="v" x="776" y="634.5">0.9999</text><text class="n" x="781" y="637.9">Aria_Aria1g00455</text></g>
<g id="L82"><rect class="b" x="778" y="642.9" width="3" height="1.6"/><text class="v" x="777" y="642.4">0.99977</text><text class="n" x="782" y="645.8">Acmi_Acmi1g00405</text></g>
<g id="L83"><rect class="b" x="758" y="650.8" width="3" height="1.6"/><text class="v" x="757" y="650.3">0.0687</text><text class="n" x="762" y="653.7">Ecar_Ecar5g01168</text></g>
<g id="L84"><rect class="b" x="775" y="658.6" width="3" height="1.6"/><text class="v" x="774" y="658.1">0.0666</text><text class="n" x="779" y="661.5">Ecan_Ecan2g00862</text></g>
<g id="L85"><rect class="b" x="735" y="666.5" width="3" height="1.6"/><text class="v" x="734" y="666">0.0657</text><text class="n" x="739" y="669.4">Cilco_Cilco10000052_1g00100</text></g>
<g id="L86"><rect class="b" x="767" y="674.4" width="3" height="1.6"/><text class="v" x="766" y="673.9">0.0177</text><text class="n" x="771" y="677.3">Chma_Chma4g02987</text></g>
<g id="L87"><rect class="b" x="833" y="682.3" width="3" height="1.6"/><text class="v" x="832" y="681.8">0.00999</text><text class="n" x="837" y="685.2">Chma_Chma4g02742</text></g>
<g id="L88"><rect class="b" x="832" y="690.1" width="3" height="1.6"/><text class="v" x="831" y="689.6">99.99</text><text class="n" x="836" y="693">Chma_Chma8g04425</text></g>
<g id="L89"><rect class="b" x="820" y="698" width="3" height="1.6"/><text class="v" x="819" y="697.5">0.00999</text><text class="n" x="824" y="700.9">Chmo_Chmo3g00885</text></g>
<g id="L90"><rect class="b" x="787" y="705.9" width="3" height="1.6"/><text class="v" x="786" y="705.4">99.99</text><text class="n" x="791" y="708.8">Cmid_Cmid4g00881</text></g>
<g id="L91"><rect class="b" x="787" y="713.7" width="3" height="1.6"/><text class="v" x="786" y="713.2">0.00999</text><text class="n" x="791" y="716.6">Chmo_Chmo7g00885</text></g>
<g id="L92"><rect class="b" x="788" y="721.6" width="3" height="1.6"/><text class="v" x="787" y="721.1">0.00999</text><text class="n" x="792" y="724.5">Chmo_Chmo2g00758</text></g>
<g id="L93"><rect class="b" x="788" y="729.5" width="3" height="1.6"/><text class="v" x="787" y="729">0.00999</text><text class="n" x="792" y="732.4">Aann_Aann3g00884</text></g>
<g id="L94"><rect class="b" x="785" y="737.4" width="3" height="1.6"/><text class="v" x="784" y="736.9">0.0677</text><text class="n" x="789" y="740.3">Aris_Aris3g02544</text></g>
<g id="L95"><rect class="b" x="878" y="745.2" width="3" height="1.6"/><text class="v" x="877" y="744.7">99.99</text><text class="n" x="882" y="748.1">Helu_Helu5g00888</text></g>
<g id="L96"><rect class="b" x="903" y="753.1" width="3" height="1.6"/><text class="v" x="902" y="752.6">0.0577</text><text class="n" x="907" y="756">Hean_Hean15g03477</text></g>
<g id="L97"><rect class="b" x="910" y="761" width="3" height="1.6"/><text class="v" x="909" y="760.5">0.044</text><text class="n" x="914" y="763.9">Helu_Helu4g00880</text></g>
<g id="L98"><rect class="b" x="860" y="768.9" width="3" height="1.6"/><text class="v" x="859" y="768.4">0.99999</text><text class="n" x="864" y="771.8">Helu_Helu5g00882</text></g>
<g id="L99"><rect class="b" x="848" y="776.7" width="3" height="1.6"/><text class="v" x="847" y="776.2">0.184</text><text class="n" x="852" y="779.6">Amir_Amir1g00528</text></g>
<g id="L100"><rect class="b" x="1080" y="784.6" width="3" height="1.6"/><text class="v" x="1079" y="784.1">0.555</text><text class="n" x="1084" y="787.5">Dapi_Dapi15g01570</text></g>
<g id="L101"><rect class="b" x="910" y="792.5" width="3" height="1.6"/><text class="v" x="909" y="792">0.0667</text><text class="n" x="914" y="795.4">Dapi_Dapi1g01557</text></g>
<g id="L102"><rect class="b" x="875" y="800.3" width="3" height="1.6"/><text class="v" x="874" y="799.8">0.0605</text><text class="n" x="879" y="803.2">Cola_Cola8g01103</text></g>
<g id="L103"><rect class="b" x="948" y="808.2" width="3" height="1.6"/><text class="v" x="947" y="807.7">0.0666</text><text class="n" x="952" y="811.1">Biat_Biat2g00880</text></g>
<g id="L104"><rect class="b" x="944" y="816.1" width="3" height="1.6"/><text class="v" x="943" y="815.6">0.0677</text><text class="n" x="948" y="819">Biat_Biat3g00515</text></g>
<g id="L105"><rect class="b" x="917" y="824" width="3" height="1.6"/><text class="v" x="916" y="823.5">0.105</text><text class="n" x="921" y="826.9">Taer_Taer1g04893</text></g>
<g id="L106"><rect class="b" x="850" y="831.8" width="3" height="1.6"/><text class="v" x="849" y="831.3">0.0667</text><text class="n" x="854" y="834.7">Smon_Smon2g01302</text></g>
<g id="L107"><rect class="b" x="868" y="839.7" width="3" height="1.6"/><text class="v" x="867" y="839.2">0.0721</text><text class="n" x="872" y="842.6">Smon_Smon3g01674</text></g>
<g id="L108"><rect class="b" x="873" y="847.6" width="3" height="1.6"/><text class="v" x="872" y="847.1">0.0877</text><text class="n" x="877" y="850.5">Erco_Erco8g01372</text></g>
<g id="L109"><rect class="b" x="895" y="855.5" width="3" height="1.6"/><text class="v" x="894" y="855">0.0877</text><text class="n" x="899" y="858.4">Esm_Esm1g00254</text></g>
<g id="L110"><rect class="b" x="917" y="863.3" width="3" height="1.6"/><text class="v" x="916" y="862.8">99.99</text><text class="n" x="921" y="866.2">Eli_Eli100036g00001</text></g>
<g id="L111"><rect class="b" x="963" y="871.2" width="3" height="1.6"/><text class="v" x="962" y="870.7">0.0177</text><text class="n" x="967" y="874.1">Era_Era8g01444</text></g>
<g id="L112"><rect class="b" x="991" y="879.1" width="3" height="1.6"/><text class="v" x="990" y="878.6">0.0555</text><text class="n" x="995" y="882">Etu_Etu113558g00001</text></g>
<g id="L113"><rect class="b" x="991" y="886.9" width="3" height="1.6"/><text class="v" x="990" y="886.4">0.00999</text><text class="n" x="995" y="889.8">Etr_Etr4629g00001</text></g>
<g id="L114"><rect class="b" x="937" y="894.8" width="3" height="1.6"/><text class="v" x="936" y="894.3">0.0777</text><text class="n" x="941" y="897.7">Eli_Eli7g01548</text></g>
<g id="L115"><rect class="b" x="965" y="902.7" width="3" height="1.6"/><text class="v" x="964" y="902.2">0.0967</text><text class="n" x="969" y="905.6">Gssu_Gssu1000007g00274</text></g>
<g id="L116"><rect class="b" x="853" y="910.6" width="3" height="1.6"/><text class="v" x="852" y="910.1">0.0967</text><text class="n" x="857" y="913.5">Mimi_Mimi15g00666</text></g>
<g id="L117"><rect class="b" x="910" y="918.4" width="3" height="1.6"/><text class="v" x="909" y="917.9">0.187</text><text class="n" x="914" y="921.3">Sira_Sira8g02188</text></g>
<g id="L118"><rect class="b" x="768" y="926.3" width="3" height="1.6"/><text class="v" x="767" y="925.8">0.0842</text><text class="n" x="772" y="929.2">Poly_Poly8g02459</text></g>
<g id="L119"><rect class="b" x="757" y="934.2" width="3" height="1.6"/><text class="v" x="756" y="933.7">0.0744</text><text class="n" x="761" y="937.1">Pin_Pin14g00085</text></g>
<g id="L120"><rect class="b" x="820" y="942.1" width="3" height="1.6"/><text class="v" x="819" y="941.6">0.0728</text><text class="n" x="824" y="945">Ecan_Ecan8g00504</text></g>
<g id="L121"><rect class="b" x="817" y="949.9" width="3" height="1.6"/><text class="v" x="816" y="949.4">0.0277</text><text class="n" x="821" y="952.8">Scaa_Scaa100000082g00585</text></g>
<g id="L122"><rect class="b" x="817" y="957.8" width="3" height="1.6"/><text class="v" x="816" y="957.3">0.0177</text><text class="n" x="821" y="960.7">Scca_Scca4g00887</text></g>
<g id="L123"><rect class="b" x="793" y="965.7" width="3" height="1.6"/><text class="v" x="792" y="965.2">0.0277</text><text class="n" x="797" y="968.6">Picnb_Picnb10000003_1g01397</text></g>
<g id="L124"><rect class="b" x="793" y="973.6" width="3" height="1.6"/><text class="v" x="792" y="973.1">0.0277</text><text class="n" x="797" y="976.5">Psiu_Psiu8g00877</text></g>
<g id="L125"><rect class="b" x="797" y="981.4" width="3" height="1.6"/><text class="v" x="796" y="980.9">0.0888</text><text class="n" x="801" y="984.3">Lcmi_Lcmi8g00888</text></g>
<g id="L126"><rect class="b" x="797" y="989.3" width="3" height="1.6"/><text class="v" x="796" y="988.8">0.0777</text><text class="n" x="801" y="992.2">Lcmi_Lcmi7g01085</text></g>
<g id="L127"><rect class="b" x="851" y="997.2" width="3" height="1.6"/><text class="v" x="850" y="996.7">0.287</text><text class="n" x="855" y="1000.1">Seaq_Seaq100005g01010</text></g>
</g>
</svg>
